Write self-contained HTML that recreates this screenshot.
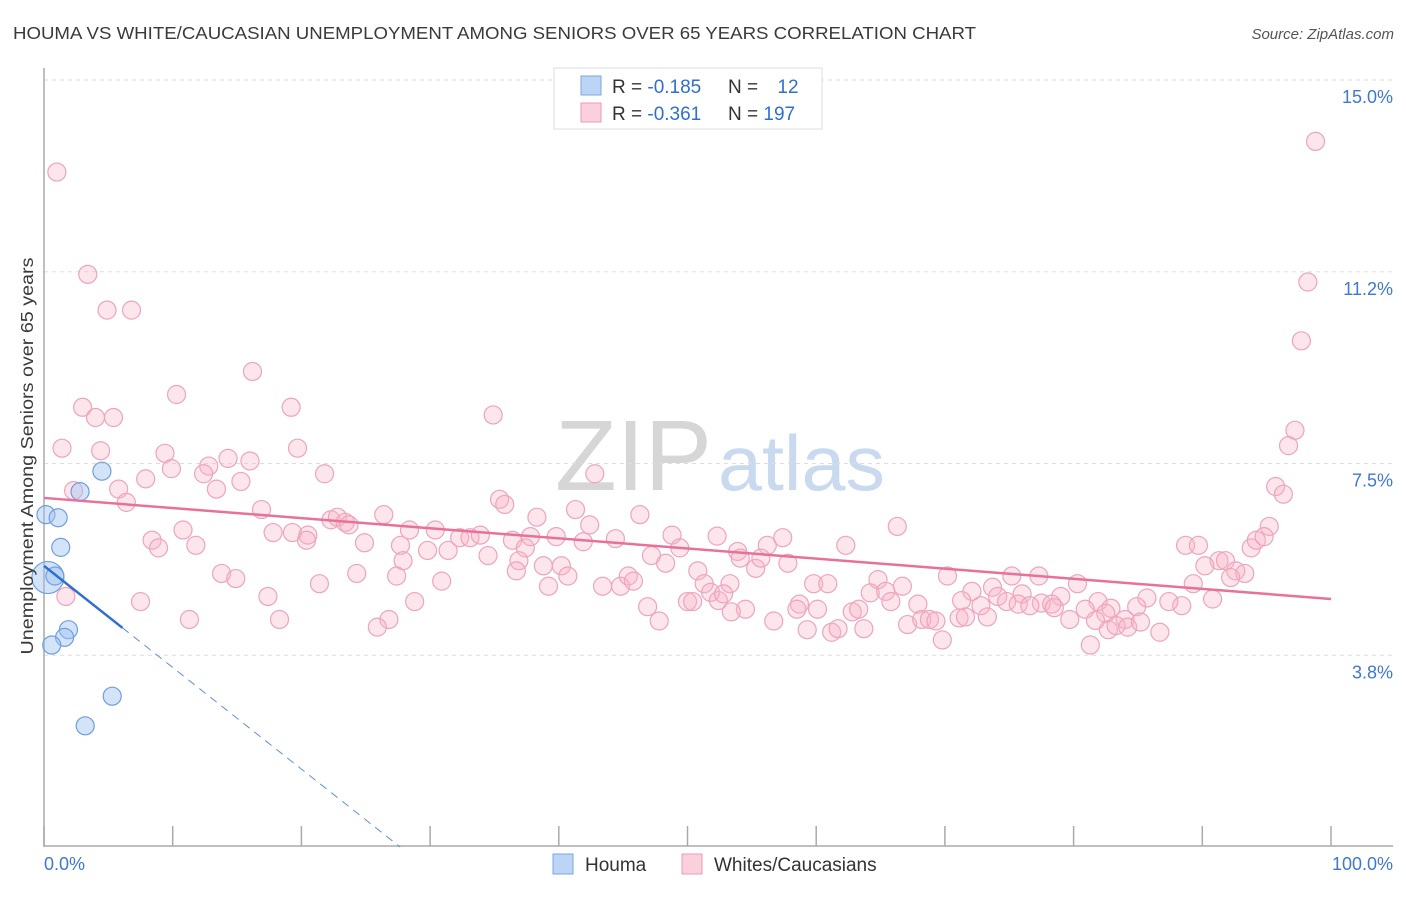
<!DOCTYPE html>
<html><head><meta charset="utf-8">
<style>
body{margin:0;background:#fff;font-family:"Liberation Sans",sans-serif;}
svg text{font-family:"Liberation Sans",sans-serif;}
</style></head>
<body>
<svg id="chart" width="1406" height="892" viewBox="0 0 1406 892" xmlns="http://www.w3.org/2000/svg">
<text x="13" y="39" font-size="17.5" fill="#3a3a3a" textLength="963" lengthAdjust="spacingAndGlyphs">HOUMA VS WHITE/CAUCASIAN UNEMPLOYMENT AMONG SENIORS OVER 65 YEARS CORRELATION CHART</text>
<text x="1394" y="39" font-size="15" fill="#555" font-style="italic" text-anchor="end">Source: ZipAtlas.com</text>
<g>
<text x="712" y="490" font-size="100" fill="#d6d6d6" text-anchor="end" font-family="Liberation Serif, serif" textLength="157" lengthAdjust="spacingAndGlyphs">ZIP</text>
<text x="718" y="490" font-size="78" fill="#c9d9ef" textLength="167" lengthAdjust="spacingAndGlyphs">atlas</text>
</g>
<g id="grid"></g>
<g id="axes"></g>
<g id="pts"></g>
<g id="trend"></g>
<text transform="translate(33,456) rotate(-90)" font-size="17.5" fill="#3a3a3a" text-anchor="middle" textLength="397" lengthAdjust="spacingAndGlyphs">Unemployment Among Seniors over 65 years</text>
<g>
<rect x="554" y="68" width="268" height="61" fill="#fff" stroke="#ddd"/>
<rect x="581" y="76" width="20" height="19" fill="#bcd4f5" stroke="#7ea6e0"/>
<rect x="581" y="103" width="20" height="19" fill="#fbd0dd" stroke="#ee9ab4"/>
<text x="612" y="93" font-size="19" fill="#333">R = <tspan fill="#2f6fd0">-0.185</tspan></text>
<text x="728" y="93" font-size="19" fill="#333">N = <tspan fill="#2f6fd0" dx="14">12</tspan></text>
<text x="612" y="120" font-size="19" fill="#333">R = <tspan fill="#2f6fd0">-0.361</tspan></text>
<text x="728" y="120" font-size="19" fill="#333">N = <tspan fill="#2f6fd0">197</tspan></text>
</g>
<g>
<rect x="553" y="854" width="20" height="20" fill="#bcd4f5" stroke="#7ea6e0"/>
<text x="585" y="871" font-size="19" fill="#333">Houma</text>
<rect x="682" y="854" width="20" height="20" fill="#fbd0dd" stroke="#ee9ab4"/>
<text x="714" y="871" font-size="19" fill="#333">Whites/Caucasians</text>
</g>
</svg>
<script>
const yTicks=[3.75,7.5,11.25,15];
const yTickLabels=["3.8%","7.5%","11.2%","15.0%"];
const xTicks=[0,10,20,30,40,50,60,70,80,90,100];
const xEndLabels=["0.0%","100.0%"];
const houmaX=[0.15,1.1,1.3,0.3,0.85,2.8,4.5,1.9,1.6,0.6,5.3,3.2];
const houmaY=[6.5,6.44,5.86,5.27,5.3,6.95,7.35,4.25,4.1,3.95,2.95,2.37];
const houmaR=[9,9,9,16,9,9,9,9,9,9,9,9];
const whiteX=[1.0,3.4,4.9,6.8,16.2,10.3,3.0,4.0,5.4,19.2,34.9,1.4,4.4,9.4,19.7,14.3,16.0,9.9,12.8,7.9,12.4,15.3,21.8,42.8,2.3,5.8,13.4,6.4,35.4,35.8,95.7,96.3,97.2,96.7,97.7,98.2,98.8,16.9,41.3,46.3,26.4,22.3,22.8,23.4,23.7,8.4,10.8,17.8,19.3,20.5,28.4,30.4,38.3,42.4,66.3,95.2,8.9,11.8,20.4,24.9,27.7,29.8,31.4,32.3,33.1,33.9,36.4,37.4,37.8,39.8,41.9,44.4,48.8,49.4,52.3,53.9,56.2,57.4,62.3,88.7,89.7,93.8,94.2,94.8,91.3,91.8,90.2,92.6,93.3,92.2,89.3,90.8,88.4,87.4,86.7,27.9,34.5,36.9,38.8,40.2,47.2,48.3,54.1,55.3,55.7,57.8,13.8,14.9,24.3,27.4,30.9,36.7,39.2,40.7,43.4,44.8,45.4,45.8,50.8,51.3,53.3,59.8,60.9,64.8,66.7,70.2,75.2,77.3,80.3,1.7,21.4,17.4,28.8,50.0,51.8,50.4,52.4,52.8,64.2,65.4,65.8,72.1,73.7,74.1,76.0,79.0,7.5,58.7,58.5,60.1,67.9,71.3,72.8,74.8,75.7,77.5,78.3,81.9,82.9,85.7,84.0,46.9,54.5,76.6,80.9,82.5,84.9,11.3,18.3,26.8,25.9,47.8,53.4,56.7,59.3,61.2,61.7,62.8,63.3,63.7,67.1,68.2,68.8,69.3,69.8,71.1,71.6,73.3,79.7,81.3,82.7,83.3,84.2,85.2,81.7,78.5];
const whiteY=[13.2,11.2,10.5,10.5,9.3,8.85,8.6,8.4,8.4,8.6,8.45,7.8,7.75,7.7,7.8,7.6,7.55,7.4,7.45,7.2,7.3,7.15,7.3,7.3,6.97,7.0,7.0,6.74,6.8,6.7,7.05,6.9,8.15,7.85,9.9,11.05,13.8,6.6,6.6,6.5,6.5,6.4,6.45,6.35,6.3,6.0,6.2,6.15,6.15,6.1,6.2,6.2,6.45,6.3,6.27,6.27,5.85,5.9,6.0,5.95,5.9,5.8,5.8,6.05,6.05,6.1,6.0,5.85,6.07,6.07,5.97,6.03,6.1,5.85,6.08,5.78,5.9,6.05,5.9,5.9,5.9,5.85,6.0,6.07,5.6,5.6,5.5,5.4,5.35,5.27,5.15,4.85,4.72,4.8,4.2,5.6,5.7,5.6,5.5,5.5,5.7,5.55,5.65,5.45,5.65,5.55,5.35,5.25,5.35,5.3,5.2,5.4,5.1,5.3,5.1,5.1,5.3,5.2,5.4,5.15,5.15,5.15,5.15,5.23,5.1,5.3,5.3,5.3,5.15,4.9,5.15,4.9,4.8,4.8,4.98,4.8,4.82,4.95,4.97,5.0,4.8,5.0,5.08,4.9,4.95,4.9,4.8,4.75,4.65,4.65,4.75,4.82,4.72,4.8,4.75,4.77,4.75,4.8,4.67,4.87,4.45,4.7,4.65,4.72,4.65,4.57,4.7,4.45,4.45,4.45,4.3,4.42,4.6,4.42,4.25,4.2,4.27,4.6,4.65,4.27,4.35,4.45,4.45,4.42,4.05,4.48,4.5,4.5,4.45,3.95,4.25,4.33,4.3,4.4,4.43,4.68];

const NS="http://www.w3.org/2000/svg";
const X0=44,X1=1331,YB=847,PX=51.13;
function sx(v){return X0+(X1-X0)*v/100;}
function sy(v){return YB-v*PX;}
function mk(tag,attrs,parent){const e=document.createElementNS(NS,tag);for(const k in attrs)e.setAttribute(k,attrs[k]);parent.appendChild(e);return e;}
const grid=document.getElementById('grid'),axes=document.getElementById('axes'),pts=document.getElementById('pts'),trend=document.getElementById('trend');
yTicks.forEach((t,i)=>{
 const l=mk('line',{x1:X0,x2:1393,y1:sy(t),y2:sy(t),stroke:'#ddd','stroke-dasharray':'4,4'},grid);
 
 
 const tx=mk('text',{x:1393,y:sy(t)+23,'font-size':18,fill:'#3f78d0','text-anchor':'end'},grid);
 tx.textContent=yTickLabels[i];
 
 
});
const ya=mk('line',{x1:X0,x2:X0,y1:68,y2:847,stroke:'#aaa','stroke-width':1.5},axes);


const xa=mk('line',{x1:X0,x2:1393,y1:846,y2:846,stroke:'#aaa','stroke-width':1.5},axes);


xTicks.forEach(t=>{
 const l=mk('line',{x1:sx(t),x2:sx(t),y1:826,y2:846,stroke:'#aaa','stroke-width':1.5},axes);
 
 
});
[[0,'start'],[100,'end']].forEach((p,i)=>{
 const tx=mk('text',{x:i?1393:44,y:870,'font-size':18,fill:'#3f78d0','text-anchor':p[1]},axes);
 tx.textContent=xEndLabels[i];
 
 
});
whiteX.forEach((x,i)=>{
 const c=mk('circle',{cx:sx(x),cy:sy(whiteY[i]),r:9,fill:'rgba(248,180,200,0.35)',stroke:'#eea4bc','stroke-width':1.2},pts);
 
 
});
houmaX.forEach((x,i)=>{
 const c=mk('circle',{cx:sx(x),cy:sy(houmaY[i]),r:houmaR[i],fill:'rgba(160,195,240,0.45)',stroke:'#6f9ee0','stroke-width':1.2},pts);
 
 
});
function reg(xs,ys){const n=xs.length;let mx=0,my=0;xs.forEach((x,i)=>{mx+=x;my+=ys[i];});mx/=n;my/=n;let sxy=0,sxx=0;xs.forEach((x,i)=>{sxy+=(x-mx)*(ys[i]-my);sxx+=(x-mx)*(x-mx);});const b=sxy/sxx;return [my-b*mx,b];}
const [wa,wb]=reg(whiteX,whiteY);
const wl=mk('line',{x1:sx(0),y1:sy(wa),x2:sx(100),y2:sy(wa+wb*100),stroke:'#e8719a','stroke-width':2.5},trend);


const [ha,hb]=reg(houmaX,houmaY);
const hmax=Math.max(...houmaX)*1.15;
const hl=mk('line',{x1:sx(0),y1:sy(ha),x2:sx(hmax),y2:sy(ha+hb*hmax),stroke:'#2f6fd0','stroke-width':2.5},trend);


const xz=hb<0?-ha/hb:100;
const hd=mk('line',{x1:sx(hmax),y1:sy(ha+hb*hmax),x2:sx(xz),y2:sy(0),stroke:'#5f8fdc','stroke-width':1,'stroke-dasharray':'8,6'},trend);


</script>
</body></html>
